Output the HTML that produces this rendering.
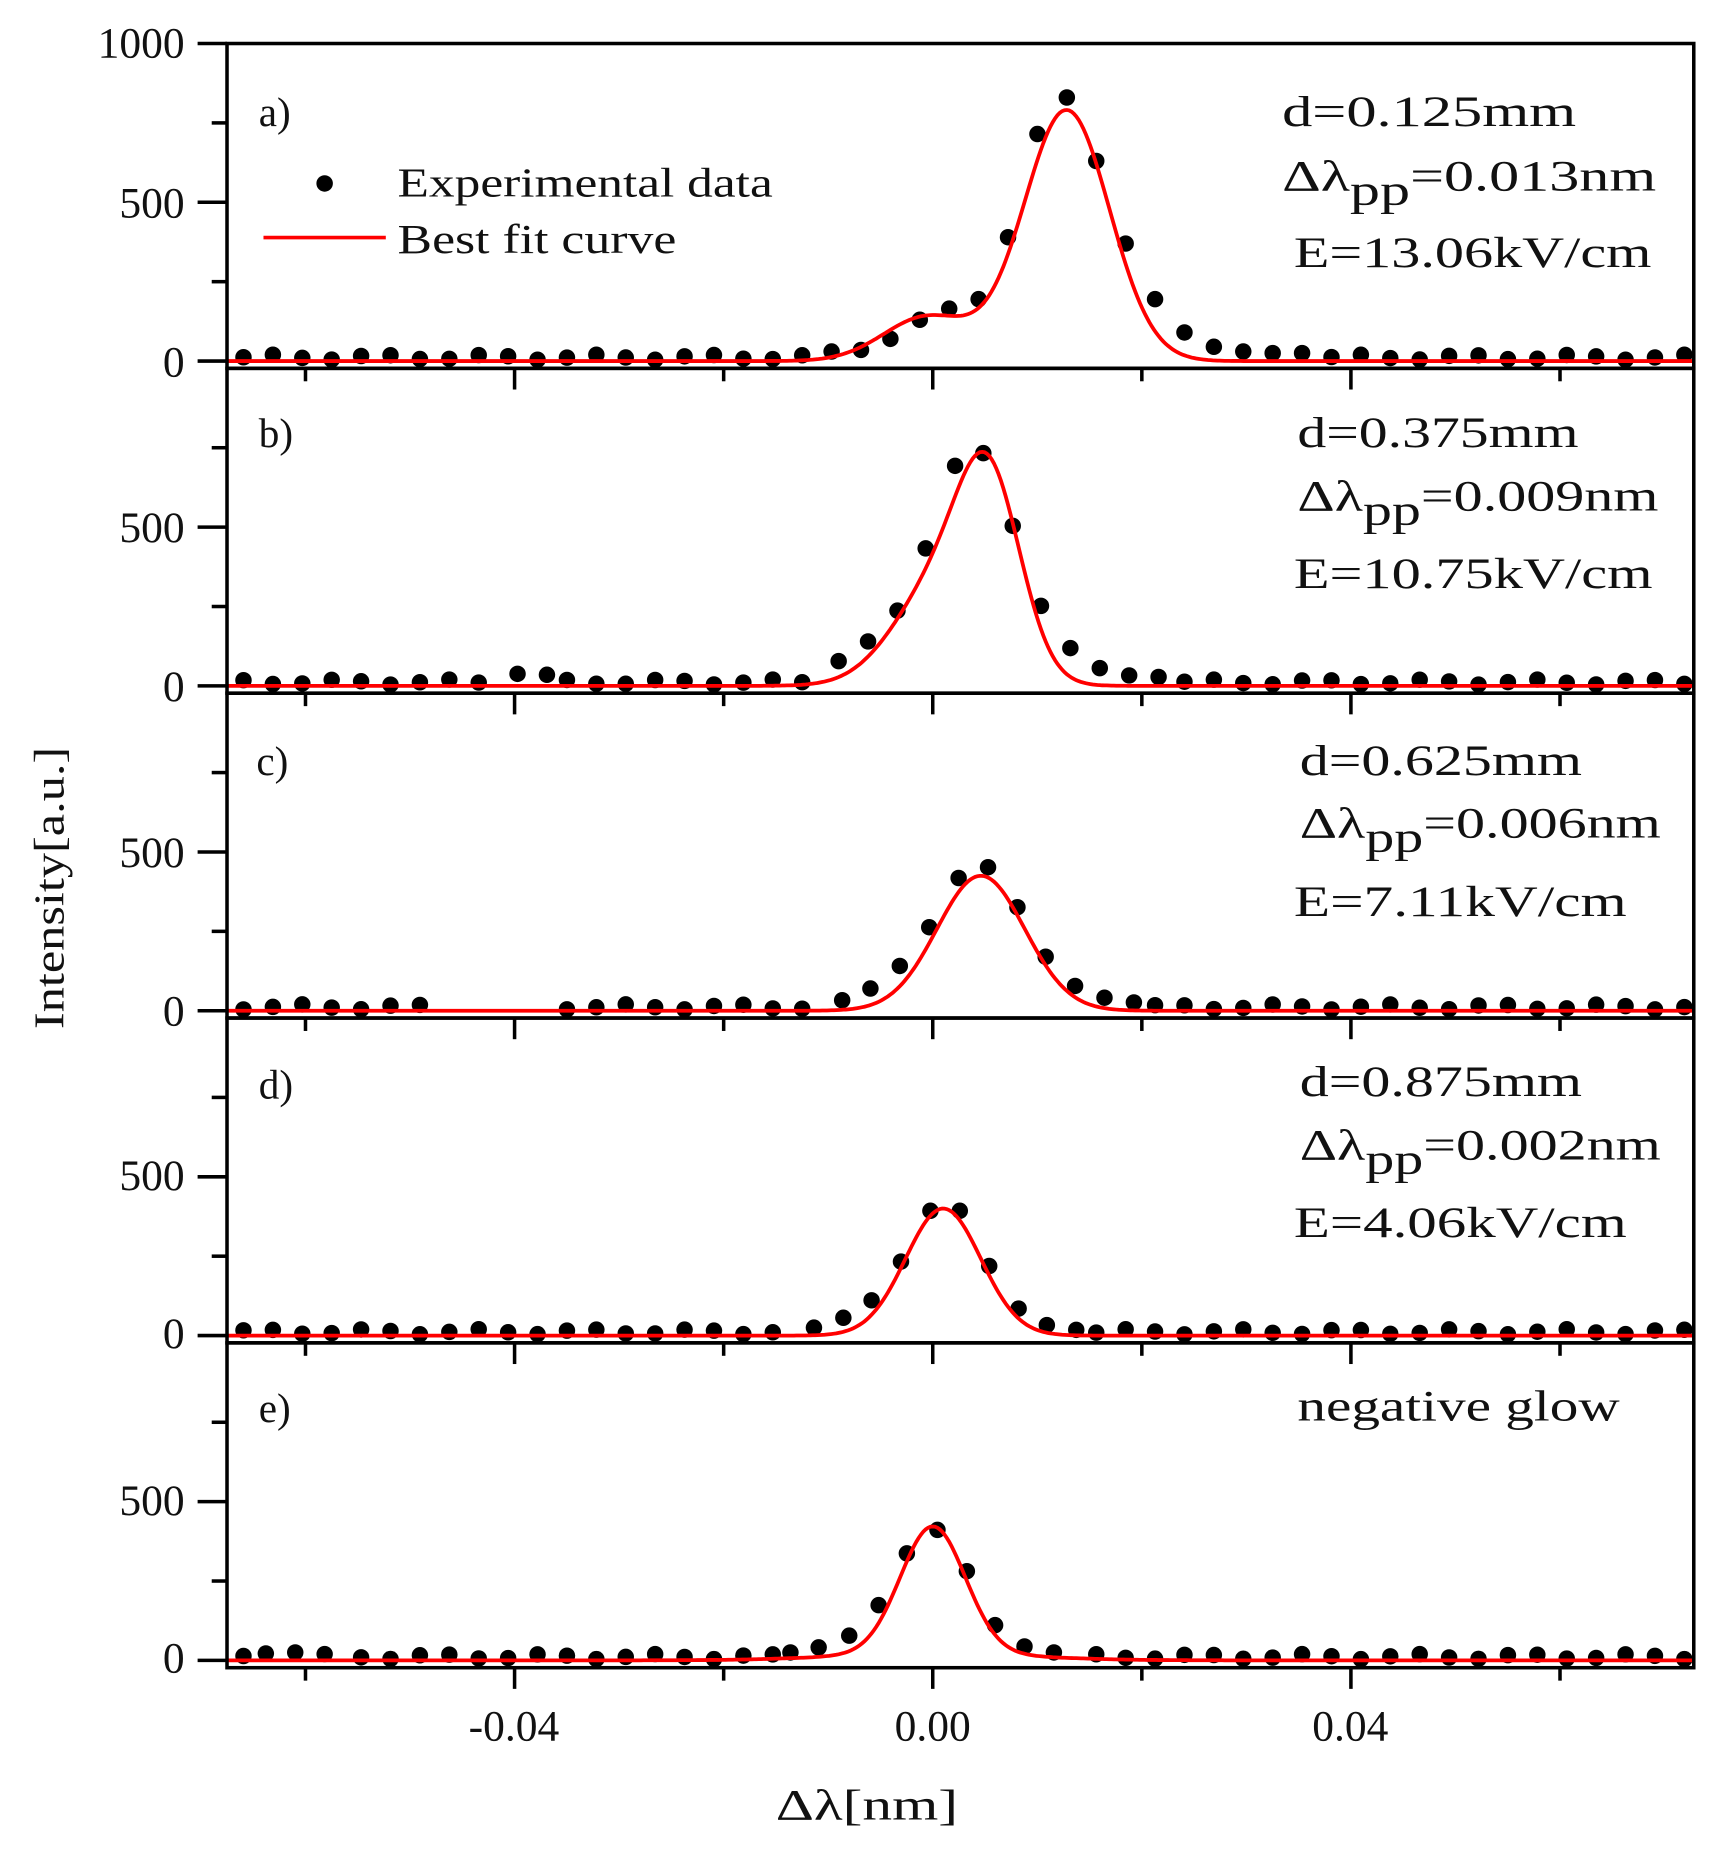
<!DOCTYPE html>
<html><head><meta charset="utf-8"><style>
html,body{margin:0;padding:0;background:#fff;}
svg{display:block;}
text{font-family:"Liberation Serif",serif;fill:#111;}
</style></head><body>
<svg id="s" width="1722" height="1850" viewBox="0 0 1464 1573" preserveAspectRatio="none" xmlns="http://www.w3.org/2000/svg">
<g id="plot"></g>
<g font-size="37" text-anchor="end">
<text x="157" y="49">1000</text>
<text x="157" y="185">500</text><text x="157" y="320">0</text>
<text x="157" y="461">500</text><text x="157" y="596">0</text>
<text x="157" y="737">500</text><text x="157" y="872">0</text>
<text x="157" y="1012">500</text><text x="157" y="1146">0</text>
<text x="157" y="1288">500</text><text x="157" y="1422">0</text>
</g>
<g font-size="37" text-anchor="middle">
<text x="437" y="1480">-0.04</text>
<text x="793" y="1480">0.00</text>
<text x="1148" y="1480">0.04</text>
<text x="737" y="1547" textLength="155" lengthAdjust="spacingAndGlyphs">Δλ[nm]</text>
</g>
<text font-size="36" text-anchor="middle" transform="translate(54,755) rotate(-90)" textLength="240" lengthAdjust="spacingAndGlyphs">Intensity[a.u.]</text>
<g font-size="35">
<text x="220" y="107">a)</text>
<text x="220" y="380">b)</text>
<text x="218" y="659">c)</text>
<text x="220" y="934">d)</text>
<text x="220" y="1209">e)</text>
<text x="338" y="167" textLength="319" lengthAdjust="spacingAndGlyphs">Experimental data</text>
<text x="338" y="215" textLength="237" lengthAdjust="spacingAndGlyphs">Best fit curve</text>
</g>
<circle cx="276" cy="156" r="7" fill="#000"/>
<line x1="224" y1="202" x2="328" y2="202" stroke="#f00" stroke-width="3"/>
<g font-size="37">
<text x="1090" y="107" textLength="250" lengthAdjust="spacingAndGlyphs">d=0.125mm</text>
<text x="1090" y="162" textLength="318" lengthAdjust="spacingAndGlyphs">Δλ<tspan dy="12">pp</tspan><tspan dy="-12">=0.013nm</tspan></text>
<text x="1100" y="227" textLength="304" lengthAdjust="spacingAndGlyphs">E=13.06kV/cm</text>
<text x="1103" y="380" textLength="239" lengthAdjust="spacingAndGlyphs">d=0.375mm</text>
<text x="1103" y="434" textLength="307" lengthAdjust="spacingAndGlyphs">Δλ<tspan dy="12">pp</tspan><tspan dy="-12">=0.009nm</tspan></text>
<text x="1100" y="500" textLength="305" lengthAdjust="spacingAndGlyphs">E=10.75kV/cm</text>
<text x="1105" y="659" textLength="240" lengthAdjust="spacingAndGlyphs">d=0.625mm</text>
<text x="1105" y="712" textLength="307" lengthAdjust="spacingAndGlyphs">Δλ<tspan dy="12">pp</tspan><tspan dy="-12">=0.006nm</tspan></text>
<text x="1100" y="779" textLength="283" lengthAdjust="spacingAndGlyphs">E=7.11kV/cm</text>
<text x="1105" y="932" textLength="240" lengthAdjust="spacingAndGlyphs">d=0.875mm</text>
<text x="1105" y="986" textLength="307" lengthAdjust="spacingAndGlyphs">Δλ<tspan dy="12">pp</tspan><tspan dy="-12">=0.002nm</tspan></text>
<text x="1100" y="1052" textLength="283" lengthAdjust="spacingAndGlyphs">E=4.06kV/cm</text>
<text x="1103" y="1208" textLength="274" lengthAdjust="spacingAndGlyphs">negative glow</text>
</g>
</svg>
<script>
(function(){
var NS="http://www.w3.org/2000/svg",g=document.getElementById('plot');
function el(n,a){var e=document.createElementNS(NS,n);for(var k in a)e.setAttribute(k,a[k]);g.appendChild(e);return e;}
var L=193,R=1440,T=37,B=1418,H=(B-T)/5,X0=793,SX=8888,SY=0.27;
function px(x){return X0+x*SX;}
function G(x,m,s,a){return a*Math.exp(-0.5*Math.pow((x-m)/s,2));}
var curves=[
 function(x){return G(x,0.0128,0.0041,790)+G(x,-0.0005,0.0042,140);},
 function(x){return G(x,0.0055,0.003,520)+G(x,0.001,0.0045,330);},
 function(x){return G(x,0.0046,0.0042,425);},
 function(x){return G(x,0.001,0.0036,400);},
 function(x){return G(x,0.0,0.0031,400)+G(x,0,0.009,22);}
];
var peaks=[
 [[707,30],[732,35],[757,70],[782,130],[807,165],[832,195],[857,390],[882,715],[907,830],[932,630],[957,370],[982,195],[1007,90],[1032,45],[1057,30],[1082,25],[1107,25]],
 [[440,38],[465,35],[713,78],[738,140],[763,237],[787,433],[812,693],[836,733],[861,504],[885,252],[910,119],[935,56],[960,33],[985,28]],
 [[716,33],[740,70],[765,141],[790,263],[815,418],[840,452],[865,326],[889,170],[914,78],[939,41],[964,26]],
 [[692,25],[717,56],[741,111],[766,233],[791,393],[816,393],[841,219],[866,85],[890,33],[915,18]],
 [[226,22],[251,25],[276,20],[672,25],[696,41],[722,78],[747,174],[771,337],[797,411],[822,281],[846,111],[871,44],[896,25]]
];
var skip=[null,null,[380,460],null,null];
for(var p=0;p<5;p++){
 var top=T+p*H,z=top+270;
 var vals=p==0?[0,250,500,750,1000]:[0,250,500,750];
 vals.forEach(function(v){var y=z-v*SY;el('line',{x1:(v%500==0?168:180),y1:y,x2:L,y2:y,stroke:'#000','stroke-width':3});});
 var yb=top+H;
 for(var t=-0.06;t<=0.0701;t+=0.02){var xx=px(t);var major=Math.abs(Math.round(t*1000)%40)==0;
  el('line',{x1:xx,y1:yb,x2:xx,y2:yb+(major?18:11),stroke:'#000','stroke-width':3});}
 var pk=peaks[p];
 pk.forEach(function(d){el('circle',{cx:d[0],cy:z-d[1]*SY,r:7,fill:'#000'});});
 for(var i=0;i<52;i++){var x=207+25*i;if(x>1436)break;
  var near=pk.some(function(d){return Math.abs(d[0]-x)<12;});if(near)continue;
  if(skip[p]&&x>skip[p][0]&&x<skip[p][1])continue;
  var v=12+8*Math.sin(i*1.7+p*2.3);
  el('circle',{cx:x,cy:z-v*SY,r:7,fill:'#000'});}
 var d='';for(var xp=L;xp<=R;xp+=2){var xv=(xp-X0)/SX;d+=(d?'L':'M')+xp+','+(z-curves[p](xv)*SY).toFixed(1);}
 el('path',{d:d,fill:'none',stroke:'#f00','stroke-width':3.2});
 el('rect',{x:L,y:top,width:R-L,height:H,fill:'none',stroke:'#000','stroke-width':3});
}
})();
</script>
</body></html>
